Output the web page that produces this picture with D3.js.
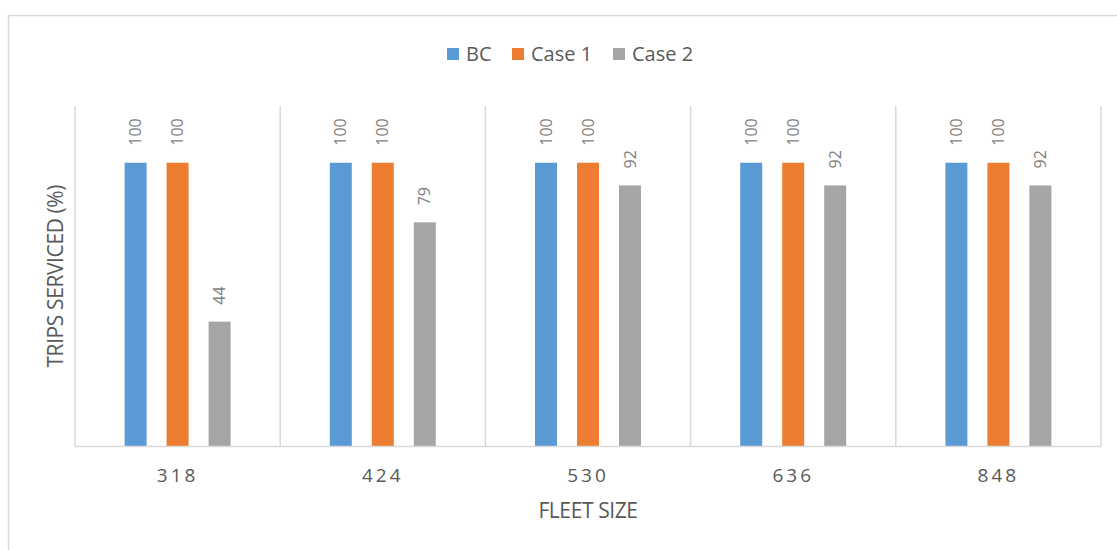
<!DOCTYPE html>
<html>
<head>
<meta charset="utf-8">
<script src="https://cdn.jsdelivr.net/npm/d3@7"></script>
<style>
  html, body { margin: 0; padding: 0; background: #fff; }
  svg text { font-family: "Open Sans", "Noto Sans", sans-serif; }
</style>
</head>
<body>
<svg id="chart" width="1117" height="550"></svg>
<script>
// Fleet sizes on the x axis
const categories = ["318", "424", "530", "636", "848"];
// Series names shown in the legend
const seriesNames = ["BC", "Case 1", "Case 2"];
// Trips serviced (%) per series, one value per fleet size
const bcValues    = [100, 100, 100, 100, 100];
const case1Values = [100, 100, 100, 100, 100];
const case2Values = [44, 79, 92, 92, 92];
const seriesColors = ["#5b9bd5", "#ed7d31", "#a5a5a5"];
const yDomain = [0, 120];

const seriesValues = [bcValues, case1Values, case2Values];
const rows = categories.map((c, i) => ({
  cat: c,
  vals: seriesNames.map((s, j) => ({ series: s, value: seriesValues[j][i], color: seriesColors[j] }))
}));

const svg = d3.select("#chart");
const plot = { left: 75, right: 1101, top: 106, bottom: 446.5 };
const gridColor = "#d9d9d9";
const textColor = "#595959";

// Outer chart frame
svg.append("rect")
  .attr("x", 8.5).attr("y", 15.5)
  .attr("width", 1200).attr("height", 600)
  .attr("fill", "none").attr("stroke", gridColor).attr("stroke-width", 1.5);

const x0 = d3.scaleBand().domain(categories).range([plot.left, plot.right]);
const groupWidth = 126;
const x1 = d3.scaleBand().domain(seriesNames).range([0, groupWidth])
  .paddingInner(20 / 42).paddingOuter(10 / 42);
const y = d3.scaleLinear().domain(yDomain).range([plot.bottom, plot.top]);

// Vertical separators between categories
const bounds = categories.map(c => x0(c)).concat([plot.right]);
svg.append("g").selectAll("line").data(bounds).join("line")
  .attr("x1", d => d).attr("x2", d => d)
  .attr("y1", plot.top).attr("y2", plot.bottom)
  .attr("stroke", gridColor).attr("stroke-width", 1.5);

// Bars
const groups = svg.append("g").selectAll("g").data(rows).join("g")
  .attr("transform", d => `translate(${x0(d.cat) + (x0.bandwidth() - groupWidth) / 2},0)`);

groups.selectAll("rect").data(d => d.vals).join("rect")
  .attr("x", d => x1(d.series))
  .attr("width", x1.bandwidth())
  .attr("y", d => y(d.value))
  .attr("height", d => y(0) - y(d.value))
  .attr("fill", d => d.color);

// Rotated value labels above bars
groups.selectAll("text").data(d => d.vals).join("text")
  .attr("transform", d => `translate(${x1(d.series) + x1.bandwidth() / 2 + 5.5},${y(d.value) - 17}) rotate(-90)`)
  .attr("text-anchor", "start")
  .attr("font-size", 16)
  .attr("fill", "#7f7f7f")
  .text(d => d.value);

// Category axis
const xAxis = svg.append("g")
  .attr("transform", `translate(0,${plot.bottom})`)
  .call(d3.axisBottom(x0).tickSize(0).tickPadding(0));
xAxis.select(".domain").attr("stroke", gridColor).attr("stroke-width", 1.5)
  .attr("d", `M${plot.left},0H${plot.right}`);
xAxis.selectAll(".tick text")
  .attr("dy", null)
  .attr("y", 35)
  .attr("font-size", 19)
  .attr("letter-spacing", "3px")
  .attr("fill", textColor)
  .attr("font-family", "'Open Sans', sans-serif");

// Axis titles
svg.append("text")
  .attr("x", (plot.left + plot.right) / 2).attr("y", 518)
  .attr("text-anchor", "middle").attr("font-size", 21).attr("fill", textColor)
  .attr("letter-spacing", "-0.4px")
  .text("FLEET SIZE");

svg.append("text")
  .attr("transform", `translate(63,${(plot.top + plot.bottom) / 2}) rotate(-90)`)
  .attr("text-anchor", "middle").attr("font-size", 21).attr("fill", textColor)
  .attr("letter-spacing", "-0.4px")
  .text("TRIPS SERVICED (%)");

// Legend
const legendX = [447, 512, 613];
const legend = svg.append("g").selectAll("g").data(seriesNames).join("g")
  .attr("transform", (d, i) => `translate(${legendX[i]},48)`);
legend.append("rect").attr("width", 12).attr("height", 12)
  .attr("fill", (d, i) => seriesColors[i]);
legend.append("text").attr("x", 19).attr("y", 12.5)
  .attr("font-size", 20).attr("fill", textColor)
  .text(d => d);
</script>
</body>
</html>
